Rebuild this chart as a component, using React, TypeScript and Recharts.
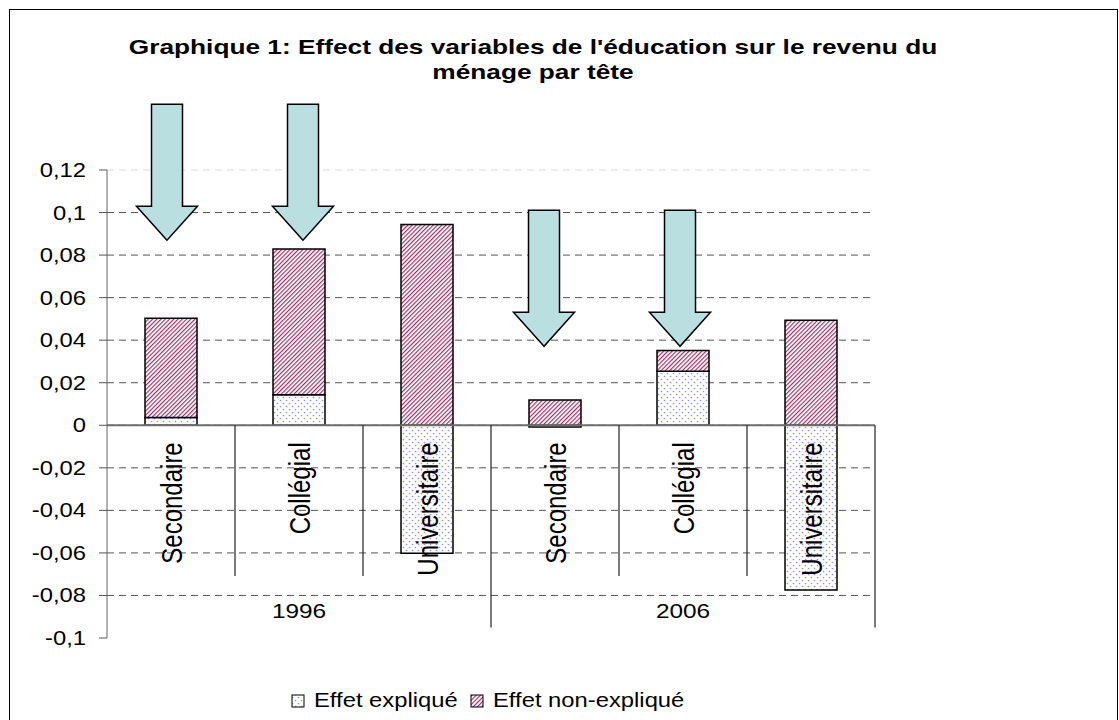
import {
  BarChart,
  Bar,
  XAxis,
  YAxis,
  CartesianGrid,
  ReferenceLine,
  ReferenceDot,
  Legend,
} from "recharts";

const categories = ["Secondaire", "Collégial", "Universitaire", "Secondaire", "Collégial", "Universitaire"];
const years = ["1996", "1996", "1996", "2006", "2006", "2006"];
const effetExplique = [0.0036, 0.0144, -0.0602, -0.0008, 0.0254, -0.0774];
const effetNonExplique = [0.0467, 0.0685, 0.0944, 0.0119, 0.0097, 0.0494];
const yTicks = [0.12, 0.1, 0.08, 0.06, 0.04, 0.02, 0, -0.02, -0.04, -0.06, -0.08, -0.1];

// the four arrows: category index and value at the tip
const arrowCats = [0, 1, 3, 4];
const arrowTips = [0.087, 0.087, 0.0371, 0.0371];
const arrowShift = [-4, 4, -11, -3];

const yearLabelCats = [1, 4];
const yearLabelValue = -0.087;
const shortSepEnd = -0.0709;
const longSepEnd = -0.0951;

const data = categories.map((c, i) => ({
  id: `${years[i]}-${c}`,
  cat: c,
  year: years[i],
  expl: effetExplique[i],
  nonExpl: effetNonExplique[i],
}));

const FONT = "'Liberation Sans', Arial, sans-serif";
const S = 1.22; // the source picture is stretched horizontally

const fmt = (v: number) => String(v).replace(".", ",");

const YTick = ({ x, y, payload }: any) => (
  <g transform={`translate(${x},${y}) scale(${S},1)`}>
    <text x={0} y={0} dy="0.36em" textAnchor="end" fontSize={19.5} fontFamily={FONT} fill="#000">
      {fmt(payload.value)}
    </text>
  </g>
);

const ArrowShape = ({ cx, cy, shift }: any) => {
  const x = cx + shift;
  const y = cy;
  const pts = [
    [x, y],
    [x - 30.5, y - 34],
    [x - 15.5, y - 34],
    [x - 15.5, y - 136],
    [x + 15.5, y - 136],
    [x + 15.5, y - 34],
    [x + 30.5, y - 34],
  ];
  return (
    <polygon
      points={pts.map((p) => p.join(",")).join(" ")}
      fill="#b9dfe1"
      stroke="#000"
      strokeWidth={1.5}
    />
  );
};

const CatLabel = ({ cx, cy, text }: any) => (
  <g transform={`translate(${cx},${cy + 17}) scale(${S},1) rotate(-90)`}>
    <text x={0} y={0} dy="0.36em" textAnchor="end" fontSize={24} fontFamily={FONT} fill="#000">
      {text}
    </text>
  </g>
);

const YearLabel = ({ cx, cy, text }: any) => (
  <g transform={`translate(${cx},${cy}) scale(${S},1)`}>
    <text x={0} y={0} dy="0.36em" textAnchor="middle" fontSize={20} fontFamily={FONT} fill="#000">
      {text}
    </text>
  </g>
);

const legendX = [292, 471];

const renderLegend = ({ payload }: any) => (
  <svg width={1119} height={30}>
    {(payload || []).map((e: any, i: number) => (
      <g key={i}>
        <rect x={legendX[i]} y={8} width={12} height={12} fill={e.color} stroke="#000" strokeWidth={1} />
        <g transform={`translate(${legendX[i] + 22},20) scale(${S},1)`}>
          <text x={0} y={0} fontSize={19.5} fontFamily={FONT} fill="#000">
            {e.value}
          </text>
        </g>
      </g>
    ))}
  </svg>
);

const App = () => {
  return (
    <div style={{ position: "absolute", left: 0, top: 0, width: 1119, height: 720, background: "#fff" }}>
      <div
        style={{
          position: "absolute",
          left: 9,
          top: 9,
          width: 1109,
          height: 720,
          border: "1px solid #000",
          boxSizing: "border-box",
        }}
      />
      <svg width={1119} height={110} style={{ position: "absolute", left: 0, top: 0 }}>
        <g transform="translate(533,54) scale(1.25,1)">
          <text x={0} y={0} textAnchor="middle" fontSize={21} fontWeight="bold" fontFamily={FONT} fill="#000">
            Graphique 1: Effect des variables de l'éducation sur le revenu du
          </text>
        </g>
        <g transform="translate(533,79) scale(1.25,1)">
          <text x={0} y={0} textAnchor="middle" fontSize={21} fontWeight="bold" fontFamily={FONT} fill="#000">
            ménage par tête
          </text>
        </g>
      </svg>
      <div style={{ position: "absolute", left: 0, top: 0 }}>
        <BarChart
          width={1119}
          height={720}
          data={data}
          stackOffset="sign"
          margin={{ top: 170, right: 244, bottom: 82, left: 0 }}
        >
          <defs>
            <pattern id="dots" width={6} height={6} patternUnits="userSpaceOnUse">
              <rect width={6} height={6} fill="#fff" />
              <circle cx={1.5} cy={1.5} r={0.85} fill="#9090ff" />
              <circle cx={4.5} cy={4.5} r={0.85} fill="#9090ff" />
            </pattern>
            <pattern id="hatch" width={3} height={3} patternUnits="userSpaceOnUse" patternTransform="rotate(45)">
              <rect width={3} height={3} fill="#fff" />
              <rect width={1.2} height={3} fill="#993366" />
            </pattern>
          </defs>
          <CartesianGrid vertical={false} stroke="#555" strokeDasharray="7 5" />
          <XAxis dataKey="id" hide />
          <YAxis
            width={107}
            domain={[-0.1, 0.12]}
            ticks={yTicks}
            interval={0}
            tickSize={8}
            tickMargin={13}
            tickLine={{ stroke: "#555" }}
            axisLine={{ stroke: "#666" }}
            tick={<YTick />}
          />
          <Bar
            dataKey="expl"
            name="Effet expliqué"
            stackId="a"
            fill="url(#dots)"
            stroke="#000"
            strokeWidth={1.5}
            barSize={52}
            isAnimationActive={false}
          />
          <Bar
            dataKey="nonExpl"
            name="Effet non-expliqué"
            stackId="a"
            fill="url(#hatch)"
            stroke="#000"
            strokeWidth={1.5}
            barSize={52}
            isAnimationActive={false}
          />
          <ReferenceLine y={0.12} stroke="#fff" strokeWidth={2} />
          <ReferenceLine y={0.12} stroke="#d9d9d9" strokeDasharray="7 5" />
          <ReferenceLine y={-0.1} stroke="#fff" strokeWidth={2} />
          <ReferenceLine y={0} stroke="#6e6e6e" strokeWidth={2} />
          {data.map((d, i) =>
            i === 0 ? null : (
              <ReferenceLine
                key={`sep-${i}`}
                segment={[
                  { x: d.id, y: 0 },
                  { x: d.id, y: years[i] !== years[i - 1] ? longSepEnd : shortSepEnd },
                ]}
                position="start"
                stroke="#222"
                strokeWidth={1.2}
              />
            )
          )}
          <ReferenceLine
            segment={[
              { x: data[data.length - 1].id, y: 0 },
              { x: data[data.length - 1].id, y: longSepEnd },
            ]}
            position="end"
            stroke="#222"
            strokeWidth={1.2}
          />
          {data.map((d, i) => (
            <ReferenceDot
              key={`cat-${i}`}
              x={d.id}
              y={0}
              r={0}
              shape={(p: any) => <CatLabel {...p} text={d.cat} />}
            />
          ))}
          {yearLabelCats.map((ci) => (
            <ReferenceDot
              key={`year-${ci}`}
              x={data[ci].id}
              y={yearLabelValue}
              r={0}
              shape={(p: any) => <YearLabel {...p} text={data[ci].year} />}
            />
          ))}
          {arrowCats.map((ci, k) => (
            <ReferenceDot
              key={`arrow-${k}`}
              x={data[ci].id}
              y={arrowTips[k]}
              r={0}
              shape={(p: any) => <ArrowShape {...p} shift={arrowShift[k]} />}
            />
          ))}
          <Legend
            layout="horizontal"
            verticalAlign="middle"
            align="center"
            wrapperStyle={{ position: "absolute", left: 0, top: 687, width: 1119 }}
            content={renderLegend}
          />
        </BarChart>
      </div>
    </div>
  );
};

export default App;
